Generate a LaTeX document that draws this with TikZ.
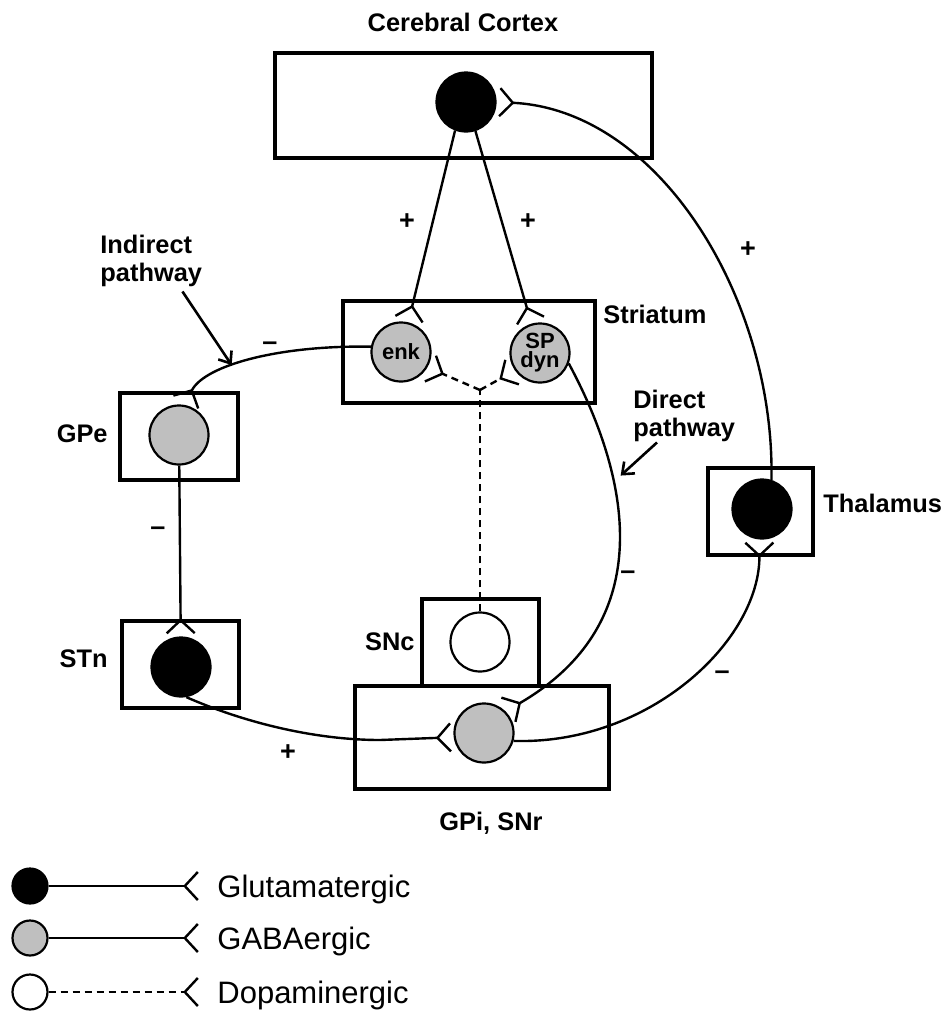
\documentclass[tikz,border=0pt]{standalone}
\usepackage{fontspec}
\setmainfont{Liberation Sans}
\usepackage{tikz}
\usetikzlibrary{arrows.meta}
\tikzstyle{region}=[rectangle, draw, line width=1.7pt, inner sep=0pt]
\tikzstyle{neuron}=[circle, draw, line width=1.1pt, inner sep=0pt, minimum size=29.5pt,
        align=center, font=\bfseries\fontsize{11}{9.5}\selectfont]
\tikzstyle{glut}=[neuron, fill=black]
\tikzstyle{gaba}=[neuron, fill=black!25]
\tikzstyle{dopa}=[neuron, fill=white]
\tikzstyle{synapse}=[line width=1.2pt, shorten >=1pt,
        -{Straight Barb[reversed, length=6.5pt, width=14pt, line width=1.2pt]}]
\tikzstyle{dopline}=[line width=1.2pt, dash pattern=on 3.5pt off 2.5pt]
\tikzstyle{dopsyn}=[synapse, dopline]
\tikzstyle{pointer}=[line width=1.3pt, shorten >=1pt,
        -{Straight Barb[length=5pt, width=8pt, line width=1.3pt]}]
\tikzstyle{caption}=[inner sep=0pt, font=\bfseries\fontsize{12.7}{14}\selectfont]
\tikzstyle{sign}=[inner sep=0pt, font=\bfseries\fontsize{13.5}{14}\selectfont]
\tikzstyle{keytext}=[inner sep=0pt, font=\fontsize{15.5}{17}\selectfont]

\begin{document}
\begin{tikzpicture}[x=0.5pt, y=-0.5pt]
      \useasboundingbox (0,0) rectangle (944,1012);
      % Place regions
      \node [region, minimum width=188.5pt, minimum height=52.5pt] (cortex) at (463.5,105.5) {};
      \node [region, minimum width=126pt, minimum height=51pt] (striatum) at (469,352) {};
      \node [region, minimum width=59pt, minimum height=43.5pt] (gpe) at (179,436.5) {};
      \node [region, minimum width=58.5pt, minimum height=43.5pt] (stn) at (180.5,664.5) {};
      \node [region, minimum width=58.5pt, minimum height=43.5pt] (snc) at (480.5,642.5) {};
      \node [region, minimum width=127pt, minimum height=51.5pt] (gpi) at (482,737.5) {};
      \node [region, minimum width=52.5pt, minimum height=43.5pt] (thalamus) at (760.5,511.5) {};
      % Place neurons
      \node [glut] (ctxN) at (466,102) {};
      \node [gaba] (enk) at (401,352) {enk};
      \node [gaba] (spdyn) at (540,353) {SP\\dyn};
      \node [gaba] (gpeN) at (179,435) {};
      \node [glut] (stnN) at (181,667) {};
      \node [dopa] (sncN) at (480,642) {};
      \node [gaba] (gpiN) at (484,733) {};
      \node [glut] (thalN) at (762,509) {};
      % Region names
      \node [caption, anchor=base] (ctxlbl) at (463,32) {Cerebral Cortex};
      \node [caption, anchor=base west] (strlbl) at (603,323) {Striatum};
      \node [caption, anchor=base east] (gpelbl) at (108,442) {GPe};
      \node [caption, anchor=base east] (stnlbl) at (108,667) {STn};
      \node [caption, anchor=base east] (snclbl) at (415,650) {SNc};
      \node [caption, anchor=base west] (thallbl) at (823,512) {Thalamus};
      \node [caption, anchor=base] (gpilbl) at (491,830) {GPi, SNr};
      \node [caption, anchor=north west, align=left] (indlbl) at (100,235) {Indirect\\pathway};
      \node [caption, anchor=north west, align=left] (dirlbl) at (633,390) {Direct\\pathway};
      % Signs
      \node [sign] (plusL) at (407,222) {+};
      \node [sign] (plusR) at (528,222) {+};
      \node [sign] (plusThal) at (748,250) {+};
      \node [sign] (plusStn) at (288,753) {+};
      \node [sign] (minusInd) at (270,346) {--};
      \node [sign] (minusGpe) at (158,531) {--};
      \node [sign] (minusDir) at (628,575) {--};
      \node [sign] (minusGpi) at (722,675) {--};
      % Draw synapses
      \draw [synapse] (ctxN.-111) -- (enk);
      \draw [synapse] (ctxN.-72) -- (spdyn);
      \draw [synapse] (thalN.72) .. controls (775,300) and (660,110) .. (ctxN.east);
      \draw [synapse] (enk.170) .. controls (280,345) and (205,365) .. (gpeN.80)
            coordinate [pos=0.6] (indtip);
      \draw [synapse] (gpeN) -- (stnN);
      \draw [synapse] (stnN.-80) .. controls (250,725) and (320,740) .. (380,740) -- (gpiN.188);
      \draw [synapse] (spdyn.-20) .. controls (610,440) and (680,610) .. (gpiN.45)
            coordinate [pos=0.38] (dirtip);
      \draw [synapse] (gpiN.-15) .. controls (650,745) and (760,640) .. (thalN.-95);
      \coordinate (dajct) at (480,390);
      \draw [dopline] (sncN) -- (dajct);
      \draw [dopsyn] (dajct) -- (enk.-30);
      \draw [dopsyn] (dajct) -- (spdyn.-145);
      % Pathway pointers
      \draw [pointer] ([xshift=-10pt, yshift=-2pt]indlbl.south east) -- (indtip);
      \draw [pointer, shorten >=5pt] ([xshift=12pt]dirlbl.south west) -- (dirtip);
      % Legend
      \node [glut, minimum size=17.5pt] (keyGlu) at (30,886) {};
      \node [gaba, minimum size=17.5pt] (keyGaba) at (30,938) {};
      \node [dopa, minimum size=17.5pt] (keyDopa) at (30,992) {};
      \node [keytext, anchor=base west] (keyGluTxt) at (217,897) {Glutamatergic};
      \node [keytext, anchor=base west] (keyGabaTxt) at (217,949) {GABAergic};
      \node [keytext, anchor=base west] (keyDopaTxt) at (217,1003) {Dopaminergic};
      \draw [synapse, shorten >=9pt] (keyGlu) -- (keyGlu -| keyGluTxt.west);
      \draw [synapse, shorten >=9pt] (keyGaba) -- (keyGaba -| keyGabaTxt.west);
      \draw [dopsyn, shorten >=9pt] (keyDopa) -- (keyDopa -| keyDopaTxt.west);
\end{tikzpicture}
\end{document}
